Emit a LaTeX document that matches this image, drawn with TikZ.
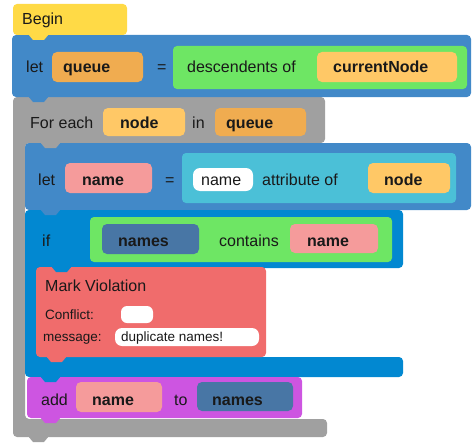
\documentclass[tikz,border=0pt]{standalone}
\usepackage{fontspec}
\setmainfont{Liberation Sans}
\definecolor{cYellow}{RGB}{255,218,70}
\definecolor{cBlue}{RGB}{66,137,200}
\definecolor{cGreen}{RGB}{110,230,100}
\definecolor{cOrange}{RGB}{240,172,80}
\definecolor{cLight}{RGB}{255,200,102}
\definecolor{cGray}{RGB}{160,160,160}
\definecolor{cCyan}{RGB}{75,192,215}
\definecolor{cPink}{RGB}{245,155,155}
\definecolor{cIf}{RGB}{2,136,209}
\definecolor{cDark}{RGB}{72,118,165}
\definecolor{cRed}{RGB}{240,108,108}
\definecolor{cMag}{RGB}{205,85,225}
\definecolor{cTxt}{RGB}{25,25,25}
\newcommand\tabnotch[3]{\fill[#1] (#2,#3-1) -- (#2+21,#3-1) -- (#2+16,#3+5) -- (#2+5,#3+5) -- cycle;}
\tikzset{
  lbl/.style={anchor=base west, inner sep=0pt, text=cTxt, font=\fontsize{16}{19}\selectfont},
  var/.style={lbl, font=\fontsize{16}{19}\selectfont\bfseries},
  small/.style={anchor=base west, inner sep=0pt, text=cTxt, font=\fontsize{13.5}{16}\selectfont},
  blk/.style={rounded corners=4pt},
  fld/.style={rounded corners=5pt},
}
\begin{document}
\begin{tikzpicture}[x=1pt,y=-1pt]
\useasboundingbox (0,0) rectangle (476,444);
% for-each (gray C block)
\fill[cGray, blk] (13,97) -- (325,97) -- (325,143) -- (25,143) -- (25,419) -- (327,419) -- (327,437) -- (13,437) -- cycle;
% let queue block
\fill[cBlue, blk] (12,35) rectangle (471,97);
% begin block
\fill[cYellow, blk] (13,4) rectangle (127,35);
\tabnotch{cYellow}{28}{35}
\tabnotch{cBlue}{28}{97}
% let name block
\fill[cBlue, blk] (25,143) rectangle (471,210);
\tabnotch{cGray}{40}{143}
% if block
\fill[cIf, blk] (25,210) -- (403,210) -- (403,268) -- (37,268) -- (37,357) -- (403,357) -- (403,377) -- (25,377) -- cycle;
\tabnotch{cBlue}{40}{210}
% mark violation
\fill[cRed, blk] (36,267) rectangle (266,357);
\tabnotch{cIf}{51}{267}
\tabnotch{cRed}{46}{357}
% add block
\fill[cMag, blk] (27,377) rectangle (302,418);
\tabnotch{cIf}{40}{377}
\tabnotch{cMag}{40}{418}
\tabnotch{cGray}{28}{437}

% Begin
\node[lbl] (tBegin) at (22,25) {Begin};
% let queue = descendents of currentNode
\node[lbl] (tLet1) at (26,73) {let};
\fill[cOrange, fld] (52,52) rectangle (143,82);
\node[var] (tQueue1) at (63,73) {queue};
\node[lbl] (tEq1) at (157,73) {=};
\fill[cGreen, blk] (173,46) rectangle (467,89);
\node[lbl] (tDesc) at (187,73) {descendents of};
\fill[cLight, fld] (317,52) rectangle (457,82);
\node[var] (tCur) at (333,73) {currentNode};
% For each node in queue
\node[lbl] (tFor) at (30,128) {For each};
\fill[cLight, fld] (103,108) rectangle (185,136);
\node[var] (tNode1) at (120,128) {node};
\node[lbl] (tIn) at (192,128) {in};
\fill[cOrange, fld] (215,108) rectangle (306,136);
\node[var] (tQueue2) at (226,128) {queue};
% let name = name attribute of node
\node[lbl] (tLet2) at (38,185) {let};
\fill[cPink, fld] (65,163) rectangle (152,193);
\node[var] (tName1) at (82,185) {name};
\node[lbl] (tEq2) at (165,185) {=};
\fill[cCyan, blk] (182,153) rectangle (456,203);
\fill[white, rounded corners=7pt] (193,168) rectangle (253,191);
\node[lbl] (tName2) at (201,185) {name};
\node[lbl] (tAttr) at (262,185) {attribute of};
\fill[cLight, fld] (368,163) rectangle (450,193);
\node[var] (tNode2) at (384,185) {node};
% if names contains name
\node[lbl] (tIf) at (42,246) {if};
\fill[cGreen, blk] (90,217) rectangle (392,262);
\fill[cDark, fld] (102,224) rectangle (199,254);
\node[var] (tNames1) at (118,246) {names};
\node[lbl] (tContains) at (219,246) {contains};
\fill[cPink, fld] (290,224) rectangle (378,253);
\node[var] (tName3) at (307,246) {name};
% Mark Violation
\node[lbl] (tMark) at (45,291) {Mark Violation};
\node[small] (tConflict) at (45,319) {Conflict:};
\fill[white, rounded corners=6pt] (121,306) rectangle (153,323);
\node[small] (tMessage) at (43,341) {message:};
\fill[white, rounded corners=7pt] (115,328) rectangle (259,346);
\node[small] (tDup) at (121,341) {duplicate names!};
% add name to names
\node[lbl] (tAdd) at (41,405) {add};
\fill[cPink, fld] (76,382) rectangle (162,412);
\node[var] (tName4) at (92,405) {name};
\node[lbl] (tTo) at (174,405) {to};
\fill[cDark, fld] (197,382) rectangle (293,411);
\node[var] (tNames2) at (212,405) {names};
\end{tikzpicture}
\end{document}
